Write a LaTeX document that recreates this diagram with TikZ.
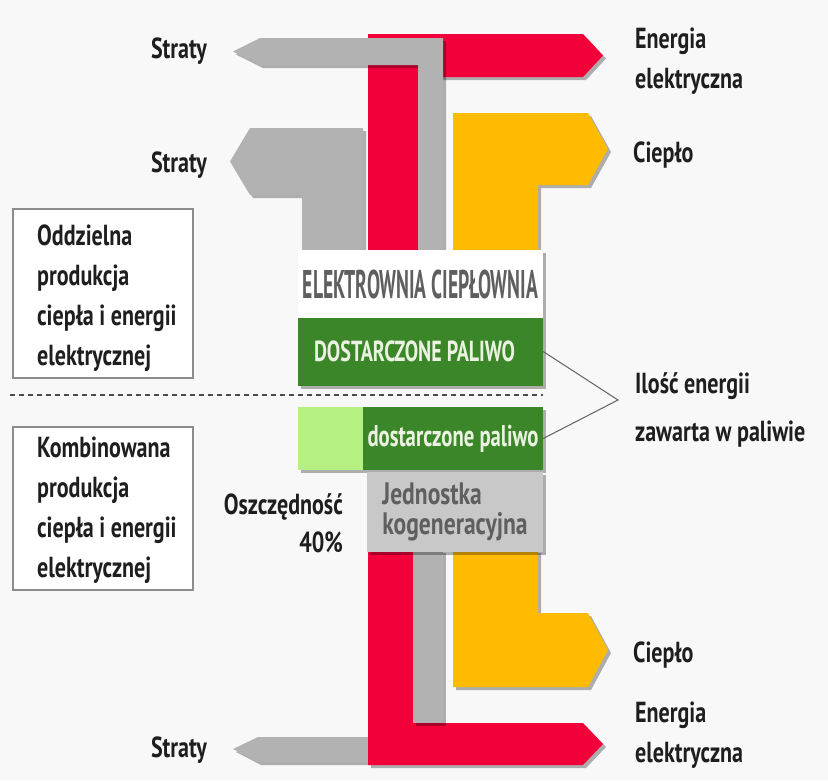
\documentclass[tikz,border=0pt]{standalone}
\usepackage{fontspec}
\setmainfont{PT Sans}[FakeStretch=0.76]
\newfontfamily\capsfont{PT Sans}[FakeStretch=0.49]
\newfontfamily\boxfont{PT Sans}[FakeStretch=0.69]
\usetikzlibrary{shadows}

\definecolor{elecred}{RGB}{242,0,58}
\definecolor{lossgray}{RGB}{178,178,178}
\definecolor{heatyellow}{RGB}{255,187,0}
\definecolor{fuelgreen}{RGB}{60,134,42}
\definecolor{savegreen}{RGB}{182,240,130}
\definecolor{chpgray}{RGB}{200,200,200}
\definecolor{fueltext}{RGB}{236,242,226}
\definecolor{captiongray}{RGB}{95,95,95}
\definecolor{labelblack}{RGB}{30,30,30}
\definecolor{sideframe}{RGB}{140,140,140}
\definecolor{paper}{RGB}{248,248,248}

\begin{document}
\begin{tikzpicture}[
  x=1pt,y=-1pt,
  flow/.style={drop shadow={shadow xshift=3pt,shadow yshift=-3pt,fill=black,opacity=0.3}},
  elec/.style={flow,fill=elecred},
  loss/.style={flow,fill=lossgray},
  heat/.style={flow,fill=heatyellow},
  block/.style={flow,minimum width=245pt,minimum height=68pt,inner sep=0pt},
  flowlabel/.style={inner sep=0pt,text=labelblack,align=left,font=\bfseries\fontsize{29}{40}\selectfont},
  sidebox/.style={draw=sideframe,line width=1.5pt,fill=white,minimum width=180pt},
  divider/.style={draw=labelblack!80,line width=2.5pt,dash pattern=on 5pt off 4pt},
  bracket/.style={draw=labelblack!70,line width=1pt}
]
  \useasboundingbox (0,0) rectangle (828,780);
  \fill[paper] (0,0) rectangle (828,780);

  % upper flows
  \fill[elec] (368,250) -- (368,34) -- (583,34) -- (603,55.5) -- (583,77) -- (418,77) -- (418,250) -- cycle;
  \fill[loss] (233,51.5) -- (260,38) -- (443,38) -- (443,250) -- (418,250) -- (418,65) -- (260,65) -- cycle;
  \fill[loss] (230,161.5) -- (250,128) -- (363,128) -- (363,250) -- (302,250) -- (302,195) -- (250,195) -- cycle;
  \fill[heat] (453,250) -- (453,113) -- (588,113) -- (608,149) -- (588,185) -- (538,185) -- (538,250) -- cycle;

  % lower flows
  \fill[loss] (233,749) -- (258,737) -- (380,737) -- (380,762) -- (258,762) -- cycle;
  \fill[elec] (368,550) -- (413,550) -- (413,723) -- (583,723) -- (603,744) -- (583,765) -- (368,765) -- cycle;
  \fill[loss] (413,550) rectangle (443,723);
  \fill[heat] (453,550) -- (538,550) -- (538,613) -- (588,613) -- (608,650) -- (588,687) -- (453,687) -- cycle;

  \node[block,fill=white,text=captiongray,font=\capsfont\bfseries\fontsize{40}{40}\selectfont] (plant) at (420.5,284) {ELEKTROWNIA CIEPŁOWNIA};
  \node[block,fill=fuelgreen,text=fueltext,font=\boxfont\bfseries\fontsize{29}{29}\selectfont] (fuelsep) at (420.5,351.5) {DOSTARCZONE PALIWO\hspace*{12pt}};

  \draw[divider] (10,395) -- (543,395);

  \node[block,minimum width=65pt,minimum height=63pt,fill=savegreen] (saving) at (330.5,438.5) {};
  \node[block,minimum width=180pt,minimum height=63pt,fill=fuelgreen,text=fueltext,font=\boxfont\bfseries\fontsize{30}{30}\selectfont] (fuelchp) at (453,438.5) {dostarczone paliwo};
  \node[block,minimum width=176pt,minimum height=80pt,fill=chpgray,text=captiongray,align=left,font=\bfseries\fontsize{31}{30}\selectfont] (chp) at (455,512) {Jednostka\\kogeneracyjna};

  \coordinate (apex) at (618,400);
  \draw[bracket] (fuelsep.east) -- (apex) -- (fuelchp.east);

  \node[sidebox,minimum height=169pt] (sepbox) at (103,293.5) {};
  \node[flowlabel,anchor=north west] (septext) at (37,225) {Oddzielna\\produkcja\\ciepła i energii\\elektrycznej};
  \node[sidebox,minimum height=163pt] (chpbox) at (103,508.5) {};
  \node[flowlabel,anchor=north west] (chptext) at (37,437) {Kombinowana\\produkcja\\ciepła i energii\\elektrycznej};

  \node[flowlabel,anchor=base east] (losstop) at (207,58) {Straty};
  \node[flowlabel,anchor=base east] (lossheat) at (207,172) {Straty};
  \node[flowlabel,anchor=base east] (losschp) at (207,757) {Straty};
  \node[flowlabel,anchor=north west] (electop) at (635,28) {Energia\\elektryczna};
  \node[flowlabel,anchor=base west] (heattop) at (633,162) {Ciepło};
  \node[flowlabel,anchor=north west,font=\bfseries\fontsize{29}{48}\selectfont] (fuelnote) at (635,372) {Ilość energii\\zawarta w paliwie};
  \node[flowlabel,anchor=base west] (heatchp) at (633,662) {Ciepło};
  \node[flowlabel,anchor=north west] (elecchp) at (635,702) {Energia\\elektryczna};
  \node[flowlabel,anchor=north east,align=right,font=\bfseries\fontsize{29}{38}\selectfont] (savenote) at (343,493) {Oszczędność\\40\%};
\end{tikzpicture}
\end{document}
